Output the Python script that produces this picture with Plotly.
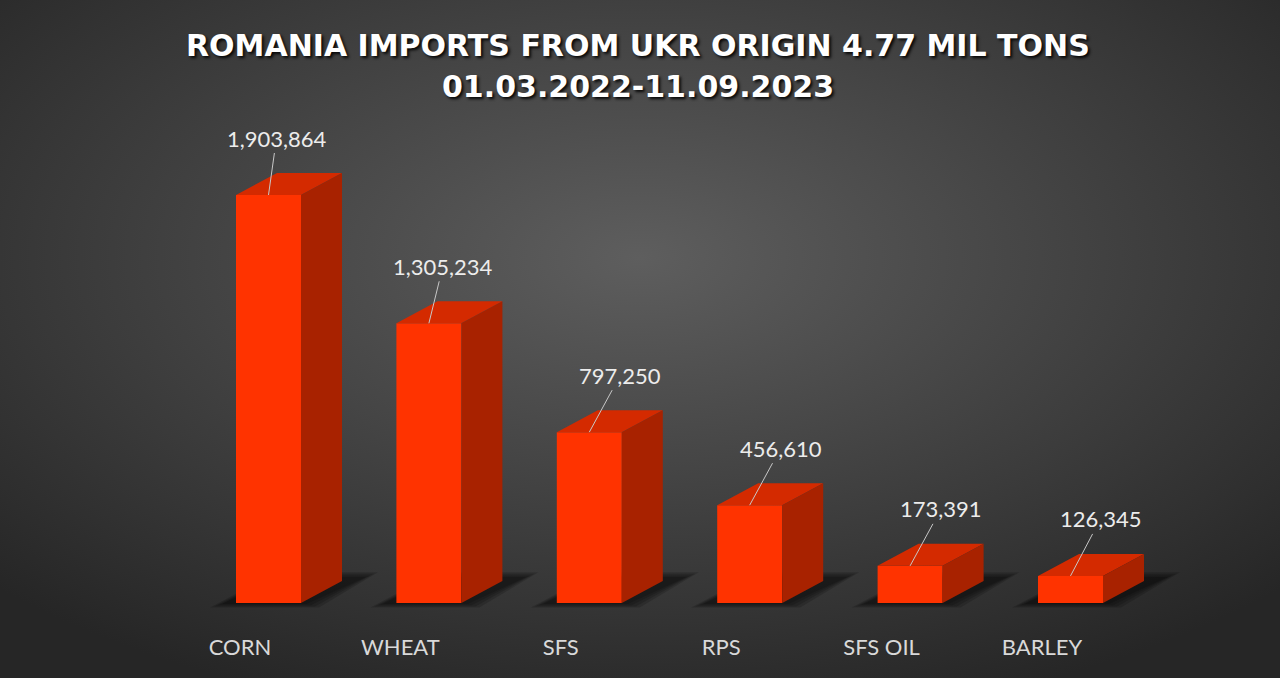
import base64
import plotly.graph_objects as go

# data
categories = ['CORN', 'WHEAT', 'SFS', 'RPS', 'SFS OIL', 'BARLEY']
tons = [1903864, 1305234, 797250, 456610, 173391, 126345]
value_labels = ['1,903,864', '1,305,234', '797,250', '456,610', '173,391', '126,345']

TITLE = 'ROMANIA IMPORTS FROM UKR ORIGIN 4.77 MIL TONS'
SUBTITLE = '01.03.2022-11.09.2023'

# geometry (pixels -> data units)
W, H = 1280, 678
ML, MR, MT, MB = 80, 80, 120, 46
UX = 160.4                    # px per category
UY = max(tons) / 408.0        # tons per px
PX = 1 / UX
FRONT_OFF = -4 * PX           # left edge of front face vs category centre
BAR_W = 65 * PX
DX = 41 * PX                  # depth offset
DY = 22 * UY

FRONT = '#FF3300'
TOP = '#D42A00'
SIDE = '#A82200'
label_dx = [8, 14, 31, 31, 31, 30]

xl = [i + FRONT_OFF for i in range(len(categories))]
xr = [x + BAR_W for x in xl]
xc = [x + BAR_W / 2 for x in xl]

fig = go.Figure()

# front faces
fig.add_bar(
    x=xc,
    y=tons,
    width=BAR_W,
    marker_color=FRONT,
    marker_line_width=0,
    hoverinfo='skip'
)

# top and side faces
top_x, top_y, side_x, side_y = [], [], [], []
for a, b, v in zip(xl, xr, tons):
    top_x += [a, b, b + DX, a + DX, a, None]
    top_y += [v, v, v + DY, v + DY, v, None]
    side_x += [b, b + DX, b + DX, b, b, None]
    side_y += [0, DY, v + DY, v, 0, None]

fig.add_scatter(x=top_x, y=top_y, fill='toself', fillcolor=TOP, mode='none',
                hoverinfo='skip')
fig.add_scatter(x=side_x, y=side_y, fill='toself', fillcolor=SIDE, mode='none',
                hoverinfo='skip')

# soft floor shadows
for a, b in zip(xl, xr):
    for k in range(4):
        g = k * 4
        pts = [
            (a - (14 + g) * PX, -(1 + g * 0.3) * UY),
            (b + (6 + g) * PX, -(1 + g * 0.3) * UY),
            (b + DX + (24 + g) * PX, DY + (4 + g * 0.4) * UY),
            (a + DX, DY + (4 + g * 0.4) * UY),
        ]
        path = 'M ' + ' L '.join(f'{x},{y}' for x, y in pts) + ' Z'
        fig.add_shape(type='path', path=path, layer='below', line_width=0,
                      fillcolor='rgba(0,0,0,0.16)')

# value labels with leader lines
for x, v, t, d in zip(xc, tons, value_labels, label_dx):
    fig.add_annotation(
        x=x, y=v, text=t,
        showarrow=True, arrowhead=0, arrowwidth=1, arrowcolor='#c8c8c8',
        ax=d, ay=-57,
        font=dict(family='Lato', size=22, color='#ececec')
    )

# title
for txt, yp in [(TITLE, 45), (SUBTITLE, 86)]:
    fig.add_annotation(
        x=(638 - ML) / (W - ML - MR), y=(H - MB - yp) / (H - MT - MB),
        xref='paper', yref='paper', showarrow=False, text=txt,
        xanchor='center', yanchor='middle',
        font=dict(family='DejaVu Sans', size=30, color='#ffffff', weight='bold',
                  shadow='2px 2px 3px rgba(0,0,0,0.9)')
    )

# background gradient
svg = (
    f'<svg xmlns="http://www.w3.org/2000/svg" width="{W}" height="{H}">'
    '<defs><radialGradient id="g" cx="50%" cy="38%" r="70%">'
    '<stop offset="0" stop-color="#5e5e5e"/>'
    '<stop offset="1" stop-color="#262626"/>'
    '</radialGradient></defs>'
    f'<rect width="{W}" height="{H}" fill="url(#g)"/></svg>'
)
pw, ph = W - ML - MR, H - MT - MB
fig.add_layout_image(
    source='data:image/svg+xml;base64,' + base64.b64encode(svg.encode()).decode(),
    xref='paper', yref='paper',
    x=-ML / pw, y=1 + MT / ph, sizex=W / pw, sizey=H / ph,
    xanchor='left', yanchor='top', sizing='stretch', layer='below'
)

fig.update_layout(
    width=W, height=H,
    margin=dict(l=ML, r=MR, t=MT, b=MB),
    paper_bgcolor='#383838',
    plot_bgcolor='rgba(0,0,0,0)',
    showlegend=False,
    xaxis=dict(
        range=[(ML - 240) / UX, (W - MR - 240) / UX],
        tickvals=list(range(len(categories))),
        ticktext=categories,
        showgrid=False, zeroline=False, showline=False, ticks='',
        tickfont=dict(family='Lato', size=22, color='#d9d9d9'),
        fixedrange=True
    ),
    yaxis=dict(
        range=[-(H - MB - 603) * UY, (603 - MT) * UY],
        visible=False, fixedrange=True
    )
)

fig.write_html(
    "out.html",
    config={'displayModeBar': False},
    post_script="document.body.style.margin='0';document.body.style.overflow='hidden';"
)
